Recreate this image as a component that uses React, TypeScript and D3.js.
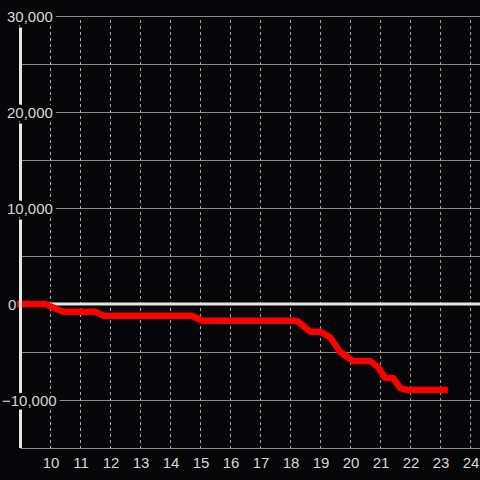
import React from "react";
import * as d3 from "d3";

const xValues = [8.9, 9.83, 10.43, 11.5, 11.77, 14.73, 15.07, 18.23, 18.67, 19.0, 19.33, 19.67, 20.1, 20.67, 20.93, 21.17, 21.43, 21.67, 21.9, 23.26];
const yValues = [0, 0, -800, -800, -1220, -1220, -1740, -1740, -2885, -2885, -3440, -5000, -5940, -5940, -6560, -7700, -7700, -8750, -8960, -8960];
const xTicks = [10, 11, 12, 13, 14, 15, 16, 17, 18, 19, 20, 21, 22, 23, 24];
const yGrid = [30000, 25000, 20000, 15000, 10000, 5000, -5000, -10000, -15000];
const yLabels = [30000, 20000, 10000, 0, -10000];

export default function App() {
  const W = 480, H = 480;
  const left = 20.5, right = 480, top = 16, bottom = 448;
  const x = d3.scaleLinear().domain([9, 24.33]).range([20, 480]);
  const y = d3.scaleLinear().domain([30000, -15000]).range([top, bottom]);
  const fmt = d3.format(",");
  const data = xValues.map((v, i) => [v, yValues[i]] as [number, number]);
  const line = d3.line<[number, number]>().x(d => x(d[0])).y(d => y(d[1])).curve(d3.curveLinear);
  const bg = "#060609";
  return (
    <div style={{ position: "fixed", left: 0, top: 0, width: W, height: H, background: bg }}>
      <svg width={W} height={H} style={{ display: "block" }} fontFamily="'Liberation Sans', Arial, sans-serif">
        <rect x={0} y={0} width={W} height={H} fill={bg} />
        {yGrid.map(v => (
          <line key={"g" + v} x1={left} x2={right} y1={y(v) + 0.5} y2={y(v) + 0.5} stroke="#8a8a8a" strokeWidth={1} />
        ))}
        {xTicks.map(v => (
          <line key={"v" + v} x1={x(v) + 0.5} x2={x(v) + 0.5} y1={top + 4} y2={bottom} stroke="#aaaaaa" strokeWidth={1} strokeDasharray="3,3" />
        ))}
        <line x1={left} x2={right} y1={y(0)} y2={y(0)} stroke="#e6e6e6" strokeWidth={3} />
        <path d={line(data) || ""} fill="none" stroke="#ff0000" strokeWidth={6.5} strokeLinejoin="round" />
        <line x1={left} x2={left} y1={top} y2={bottom} stroke="#e6e6e6" strokeWidth={3} />
        {yLabels.map(v => (
          v === 0 ? (
            <text key={"l" + v} x={8} y={y(v) + 5.5} textAnchor="start" fontSize={15} fill="#d8d8d8">{fmt(v)}</text>
          ) : (
            <text key={"l" + v} x={v < 0 ? 2 : 7} y={y(v) + 5.5} textAnchor="start" fontSize={15} fill="#d8d8d8" stroke={bg} strokeWidth={7} paintOrder="stroke">{fmt(v)}</text>
          )
        ))}
        {xTicks.map(v => (
          <text key={"t" + v} x={x(v) + 1} y={468} textAnchor="middle" fontSize={15} fill="#d8d8d8">{v}</text>
        ))}
      </svg>
    </div>
  );
}
